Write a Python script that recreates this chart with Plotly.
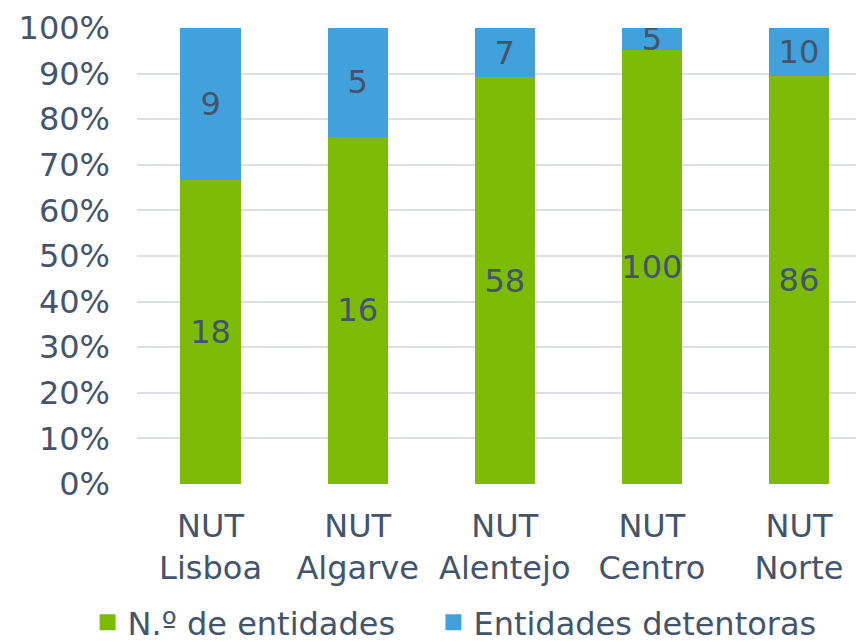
import plotly.graph_objects as go

categories = ["NUT<br>Lisboa", "NUT<br>Algarve", "NUT<br>Alentejo", "NUT<br>Centro", "NUT<br>Norte"]
n_entidades = [18, 16, 58, 100, 86]
detentoras = [9, 5, 7, 5, 10]
series_names = ["N.º de entidades", "Entidades detentoras"]
tick_vals = [0, 10, 20, 30, 40, 50, 60, 70, 80, 90, 100]
tick_text = [f"{v}%" for v in tick_vals]

green = "#7DBB08"
blue = "#42A0DA"
txt = "#44546A"
font = "DejaVu Sans"
fs = 32

fig = go.Figure()
for vals, name, col, lg in [(n_entidades, series_names[0], green, "legend"),
                            (detentoras, series_names[1], blue, "legend2")]:
    fig.add_trace(go.Bar(
        x=categories, y=vals, name=name, marker=dict(color=col, line=dict(width=0)),
        text=[str(v) for v in vals], textposition="inside", insidetextanchor="middle",
        textangle=0, constraintext="none",
        textfont=dict(family=font, size=fs, color=txt), showlegend=False,
        width=0.41,
    ))
    fig.add_trace(go.Scatter(
        x=[None], y=[None], mode="markers", name=name, legend=lg,
        marker=dict(symbol="square", size=16, color=col),
    ))

leg_common = dict(orientation="h", xref="container", yref="container",
                  xanchor="left", y=0.031, yanchor="middle",
                  font=dict(family=font, size=fs, color=txt), itemwidth=30)

fig.update_layout(
    width=856, height=634,
    barmode="stack", barnorm="percent",
    margin=dict(l=129, r=0, t=20, b=158, autoexpand=False),
    paper_bgcolor="white", plot_bgcolor="white",
    font=dict(family=font, color=txt, size=fs),
    uniformtext=dict(minsize=fs, mode="show"),
    legend=dict(x=0.093, **leg_common),
    legend2=dict(x=0.497, **leg_common),
    xaxis=dict(range=[-0.5, 4.442], showgrid=False, showline=False, ticks="",
               ticklabelstandoff=20,
               tickfont=dict(family=font, size=fs, color=txt)),
    yaxis=dict(range=[0, 100], tickvals=tick_vals, ticktext=tick_text,
               gridcolor="#DCE0E6", gridwidth=1.5, zeroline=False, showline=False,
               ticks="", ticklen=0, ticklabelstandoff=26,
               tickfont=dict(family=font, size=fs, color=txt)),
)
fig.write_html("out.html")
